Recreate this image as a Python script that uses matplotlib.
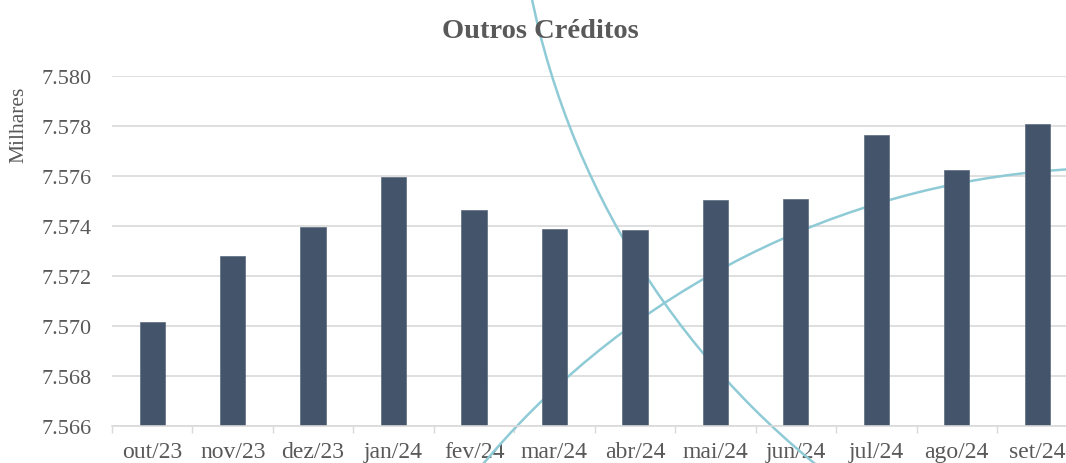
import matplotlib
matplotlib.use("Agg")
import matplotlib.pyplot as plt
import numpy as np
from matplotlib.patches import Arc
from matplotlib.ticker import FixedLocator

categories = ["out/23", "nov/23", "dez/23", "jan/24", "fev/24", "mar/24",
              "abr/24", "mai/24", "jun/24", "jul/24", "ago/24", "set/24"]
values = [7.57016, 7.57279, 7.57395, 7.57595, 7.57464, 7.57388,
          7.57383, 7.57505, 7.57507, 7.57764, 7.57625, 7.57807]
y_ticks = [7.566, 7.568, 7.570, 7.572, 7.574, 7.576, 7.578, 7.580]
y_tick_labels = ["7.566", "7.568", "7.570", "7.572", "7.574", "7.576", "7.578", "7.580"]
title = "Outros Créditos"
y_label = "Milhares"

W, H = 1066, 464
TEXT = "#595959"
BAR = "#44546A"
GRID = "#D9D9D9"
CURVE = "#8FCBD6"
FONT = ["Liberation Serif", "DejaVu Serif"]

plt.rcParams["font.family"] = FONT
fig = plt.figure(figsize=(W / 100, H / 100), dpi=100)
ax_left, ax_right, ax_top, ax_bot = 112, 1077.4, 77.3, 426.7
ax = fig.add_axes([ax_left / W, (H - ax_bot) / H, (ax_right - ax_left) / W, (ax_bot - ax_top) / H])

x = np.arange(len(categories))
ax.bar(x, values, width=0.315, color=BAR, edgecolor="#5C6B80", linewidth=0.5, zorder=2)

ax.set_xlim(-0.5, len(categories) - 0.5)
ax.set_ylim(y_ticks[0], y_ticks[-1])
ax.set_yticks(y_ticks)
ax.set_yticklabels(y_tick_labels)
ax.set_xticks(x)
ax.set_xticklabels(categories)
ax.xaxis.set_minor_locator(FixedLocator(np.arange(-0.5, len(categories), 1.0)))

ax.tick_params(axis="y", length=0, pad=15, labelsize=16, labelcolor=TEXT)
ax.tick_params(axis="x", which="major", length=0, pad=11, labelsize=17, labelcolor=TEXT)
ax.tick_params(axis="x", which="minor", length=5, width=1, color=GRID)

for s in ["top", "right", "left"]:
    ax.spines[s].set_visible(False)
ax.spines["bottom"].set_color(GRID)
ax.spines["bottom"].set_linewidth(1.2)
ax.yaxis.grid(True, color=GRID, linewidth=1.2)
ax.set_axisbelow(True)

fig.text(540 / W, 1 - 31 / H, title, ha="center", va="center",
         fontsize=20.5, fontweight="bold", color=TEXT)
fig.text(19 / W, 1 - 125 / H, y_label, ha="center", va="center",
         rotation=90, fontsize=15.5, color=TEXT)

# decorative arcs (figure pixel geometry, origin bottom-left), behind the bars
for cx, cy, r in [(1327.7, H + 166.0, 812.9), (1118.3, H - 998.1, 829.3)]:
    arc = Arc((cx / W, cy / H), 2 * r / W, 2 * r / H, transform=fig.transFigure,
              color=CURVE, linewidth=1.8, zorder=1.5, clip_on=False)
    ax.add_artist(arc)

fig.savefig("out.png", dpi=100)
